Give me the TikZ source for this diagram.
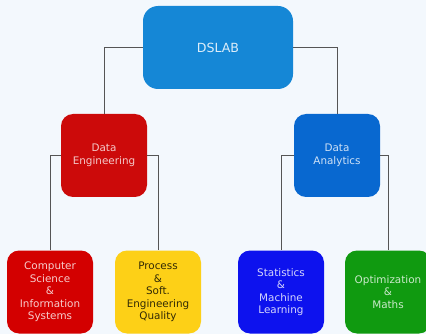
\documentclass[tikz,border=0pt]{standalone}
\usepackage{fontspec}
\setmainfont{DejaVu Sans}
\usetikzlibrary{positioning}

\definecolor{bgcol}{HTML}{F3F8FD}
\definecolor{linkgray}{HTML}{555555}
\definecolor{labblue}{HTML}{1587D6}
\definecolor{engred}{HTML}{CC0A0A}
\definecolor{anablue}{HTML}{0868D0}
\definecolor{csred}{HTML}{D30000}
\definecolor{procyellow}{HTML}{FDD017}
\definecolor{statblue}{HTML}{0D12EE}
\definecolor{optgreen}{HTML}{109A10}

\tikzset{
  box/.style={rounded corners=12pt, minimum width=86pt, minimum height=83pt,
    align=center, inner sep=0pt, font=\fontsize{10.4}{12.5}\selectfont},
  link/.style={draw=linkgray, line width=0.9pt}
}

\begin{document}
\begin{tikzpicture}[x=1pt,y=-1pt]
    \fill[bgcol] (0,0) rectangle (426,334);
    \useasboundingbox (0,0) rectangle (426,334);
    % root
    \node[box, minimum width=150pt, rounded corners=15pt, fill=labblue,
      text=white!85!labblue, font=\fontsize{12.6}{14}\selectfont] (dslab) at (218,47.5) {DSLAB};
    % second level
    \node[box, fill=engred, text=white!78!engred] (eng) at (104,155.5) {Data\\Engineering};
    \node[box, fill=anablue, text=white!80!anablue] (ana) at (337,155.5) {Data\\Analytics};
    % leaves
    \node[box, fill=csred, text=white!80!csred] (cs) at (50,292)
      {Computer\\Science\\\&\\Information\\Systems};
    \node[box, fill=procyellow, text=black!80!procyellow] (proc) at (158,292)
      {Process\\\&\\Soft.\\Engineering\\Quality};
    \node[box, fill=statblue, text=white!82!statblue] (stat) at (281,292)
      {Statistics\\\&\\Machine\\Learning};
    \node[box, fill=optgreen, text=white!78!optgreen] (opt) at (388,292)
      {Optimization\\\&\\Maths};
    % links
    \draw[link] (dslab.west) -| (eng.north);
    \draw[link] (dslab.east) -| (ana.north);
    \draw[link] (eng.west) -| (cs.north);
    \draw[link] (eng.east) -| (proc.north);
    \draw[link] (ana.west) -| (stat.north);
    \draw[link] (ana.east) -| (opt.north);
\end{tikzpicture}
\end{document}
